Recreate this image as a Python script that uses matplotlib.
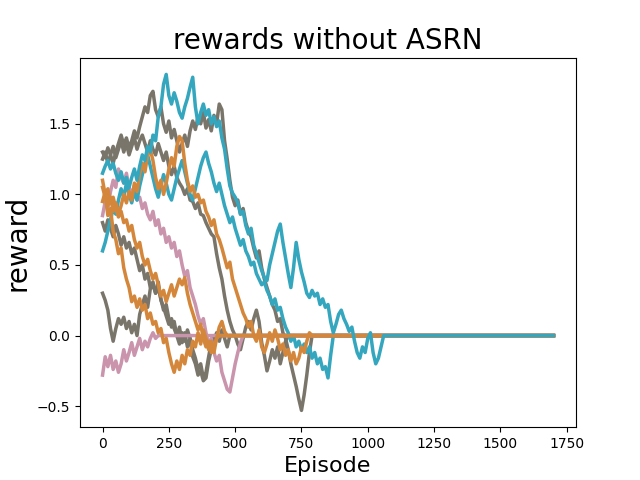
import numpy as np
import matplotlib
matplotlib.use("Agg")
import matplotlib.pyplot as plt

# rewards sampled every 10 episodes until the agent stops, then flat 0 to 1700
STEP = 10
LAST_EPISODE = 1700

grey_1 = [1.30, 1.26, 1.33, 1.28, 1.22, 1.30, 1.36, 1.42, 1.35, 1.40, 1.33, 1.38, 1.45, 1.40, 1.48, 1.55,
          1.62, 1.58, 1.70, 1.73, 1.60, 1.55, 1.62, 1.50, 1.44, 1.52, 1.40, 1.46, 1.38, 1.30, 1.36, 1.42,
          1.34, 1.45, 1.52, 1.46, 1.55, 1.50, 1.58, 1.47, 1.53, 1.45, 1.56, 1.50, 1.64, 1.60, 1.38, 1.25,
          1.10, 0.98, 0.92, 0.96, 0.86, 0.90, 0.80, 0.74, 0.70, 0.62, 0.55, 0.60, 0.48, 0.40, 0.34, 0.28,
          0.22, 0.18, 0.10, 0.12, 0.02, -0.02, -0.10, -0.20, -0.28, -0.36, -0.45, -0.53, -0.42, -0.28,
          -0.12, 0.0]
grey_2 = [1.25, 1.30, 1.22, 1.28, 1.34, 1.26, 1.32, 1.38, 1.30, 1.36, 1.28, 1.34, 1.40, 1.32, 1.38, 1.42,
          1.36, 1.30, 1.38, 1.32, 1.28, 1.36, 1.30, 1.24, 1.30, 1.20, 1.14, 1.20, 1.12, 1.08, 1.05, 1.00,
          1.04, 0.96, 0.95, 0.90, 0.94, 0.86, 0.85, 0.80, 0.76, 0.72, 0.70, 0.58, 0.48, 0.40, 0.28, 0.18,
          0.10, 0.04, 0.0, -0.06, -0.10, -0.02, 0.06, 0.10, 0.04, 0.12, 0.18, 0.10, -0.05, -0.14, -0.25,
          -0.18, -0.10, -0.16, -0.08, -0.20, -0.12, -0.04, 0.0]
grey_3 = [0.30, 0.25, 0.18, 0.05, -0.04, 0.05, 0.12, 0.08, 0.13, 0.05, 0.10, 0.02, 0.08, 0.0, 0.15, 0.22,
          0.28, 0.20, 0.33, 0.36, 0.30, 0.38, 0.25, 0.20, 0.14, 0.08, 0.12, 0.05, 0.0, 0.06, -0.05, 0.02,
          -0.08, -0.02, -0.15, -0.20, -0.28, -0.25, -0.32, -0.30, -0.18, -0.10, -0.05, 0.02, -0.04, 0.04,
          -0.02, -0.08, 0.0]
grey_4 = [0.80, 0.74, 0.82, 0.76, 0.70, 0.78, 0.72, 0.64, 0.70, 0.62, 0.66, 0.58, 0.62, 0.54, 0.46, 0.50,
          0.40, 0.44, 0.34, 0.38, 0.30, 0.34, 0.26, 0.18, 0.22, 0.12, 0.06, 0.10, 0.0, -0.06, 0.02, -0.04,
          0.04, -0.02, -0.10, -0.16, -0.24, -0.20, -0.30, -0.26, -0.15, -0.05, 0.0]
pink_1 = [-0.28, -0.15, -0.22, -0.14, -0.24, -0.18, -0.26, -0.20, -0.10, -0.18, -0.12, -0.05, -0.14, -0.08,
          -0.02, -0.10, -0.04, -0.08, -0.02, 0.02, -0.02, 0.0]
pink_2 = [0.85, 0.95, 0.90, 1.02, 1.10, 1.05, 1.18, 1.12, 1.08, 1.15, 1.05, 1.00, 1.06, 0.96, 0.98, 0.90,
          0.94, 0.86, 0.82, 0.88, 0.78, 0.82, 0.72, 0.76, 0.66, 0.70, 0.62, 0.66, 0.56, 0.60, 0.50, 0.42,
          0.46, 0.34, 0.28, 0.22, 0.14, 0.08, 0.12, 0.02, -0.06, -0.02, -0.12, -0.18, -0.14, -0.26, -0.32,
          -0.38, -0.40, -0.30, -0.20, -0.12, -0.05, 0.0]
orange_1 = [1.10, 1.00, 0.85, 0.90, 0.74, 0.68, 0.58, 0.62, 0.48, 0.40, 0.34, 0.24, 0.28, 0.20, 0.26, 0.18,
            0.22, 0.12, 0.16, 0.08, 0.10, 0.02, 0.05, -0.05, -0.02, -0.12, -0.20, -0.26, -0.18, -0.24,
            -0.14, -0.20, -0.10, -0.14, -0.04, -0.08, 0.02, -0.06, 0.04, -0.02, -0.10, -0.04, -0.12, -0.02,
            0.06, 0.10, 0.03, 0.0]
orange_2 = [0.95, 1.02, 0.92, 0.98, 0.88, 0.94, 0.86, 0.92, 1.00, 0.94, 1.02, 0.96, 1.08, 1.02, 1.15, 1.22,
            1.16, 1.28, 1.32, 1.24, 1.12, 1.04, 1.10, 1.00, 1.08, 1.18, 1.26, 1.20, 1.34, 1.41, 1.38, 1.22,
            1.10, 1.02, 1.06, 0.98, 1.00, 0.94, 0.96, 0.88, 0.84, 0.78, 0.82, 0.72, 0.68, 0.62, 0.55, 0.48,
            0.52, 0.40, 0.34, 0.28, 0.22, 0.16, 0.12, 0.06, 0.10, 0.0, -0.04, 0.04, -0.08, -0.12, -0.06,
            0.02, -0.04, 0.04, -0.02, -0.10, -0.06, -0.14, -0.10, -0.18, -0.12, -0.20, -0.16, -0.08, -0.12,
            -0.04, 0.02, 0.0]
orange_3 = [1.05, 0.98, 1.04, 0.94, 0.98, 0.90, 0.84, 0.88, 0.80, 0.82, 0.74, 0.78, 0.68, 0.62, 0.66, 0.56,
            0.50, 0.54, 0.46, 0.40, 0.44, 0.36, 0.28, 0.32, 0.24, 0.30, 0.36, 0.28, 0.34, 0.40, 0.36, 0.41,
            0.30, 0.22, 0.16, 0.10, 0.04, 0.08, -0.02, -0.08, -0.04, -0.12, -0.08, -0.02, 0.0]
teal_2 = [0.60, 0.66, 0.74, 0.82, 0.90, 0.86, 0.96, 1.04, 0.98, 1.08, 1.00, 0.94, 1.02, 0.96, 1.06, 1.14,
          1.22, 1.28, 1.20, 1.12, 1.04, 0.98, 1.06, 1.14, 1.08, 1.00, 0.96, 1.04, 1.12, 1.18, 1.24, 1.16,
          1.08, 1.00, 0.96, 1.04, 1.12, 1.20, 1.26, 1.30, 1.22, 1.16, 1.08, 1.02, 1.08, 1.00, 0.92, 0.86,
          0.80, 0.84, 0.76, 0.70, 0.64, 0.68, 0.60, 0.56, 0.50, 0.52, 0.44, 0.40, 0.36, 0.38, 0.32, 0.28,
          0.22, 0.26, 0.18, 0.20, 0.12, 0.06, 0.02, -0.04, 0.00, -0.08, -0.04, -0.10, -0.06, -0.12, -0.08,
          -0.16, -0.12, -0.20, -0.16, -0.24, -0.22, -0.30, -0.14, 0.0]
teal_1 = [1.15, 1.20, 1.24, 1.18, 1.22, 1.15, 1.10, 1.16, 1.08, 1.12, 1.05, 1.12, 1.18, 1.10, 1.20, 1.28,
          1.24, 1.34, 1.30, 1.42, 1.38, 1.55, 1.62, 1.78, 1.85, 1.70, 1.64, 1.72, 1.66, 1.58, 1.54, 1.62,
          1.68, 1.76, 1.83, 1.62, 1.50, 1.58, 1.64, 1.56, 1.60, 1.50, 1.55, 1.48, 1.52, 1.40, 1.32, 1.18,
          1.06, 1.01, 0.98, 0.94, 0.86, 0.88, 0.78, 0.72, 0.76, 0.64, 0.58, 0.52, 0.46, 0.41, 0.39, 0.50,
          0.58, 0.66, 0.74, 0.79, 0.66, 0.55, 0.44, 0.34, 0.48, 0.66, 0.54, 0.45, 0.38, 0.30, 0.27, 0.32,
          0.28, 0.30, 0.22, 0.26, 0.20, 0.22, 0.10, 0.02, 0.08, 0.15, 0.18, 0.12, 0.08, 0.03, 0.06, -0.04,
          -0.12, -0.16, -0.08, -0.12, -0.02, 0.02, -0.12, -0.20, -0.16, -0.08, 0.0]

GREY = "#7a756a"
PINK = "#c994ac"
ORANGE = "#d4873a"
TEAL = "#34a7bf"

# drawing order matters: the last one on top of the flat 0 tail
runs = [
    (grey_1, GREY), (grey_2, GREY), (grey_3, GREY), (grey_4, GREY),
    (pink_1, PINK), (pink_2, PINK),
    (teal_2, TEAL),
    (orange_1, ORANGE), (orange_2, ORANGE), (orange_3, ORANGE),
    (teal_1, TEAL),
]

fig = plt.figure(figsize=(6.4, 4.8), dpi=100)
ax = plt.axes()
for values, color in runs:
    episodes = list(range(0, len(values) * STEP, STEP)) + [LAST_EPISODE]
    ax.plot(episodes, values + [0.0], color=color, linewidth=2.5)

ax.set_xticks([0, 250, 500, 750, 1000, 1250, 1500, 1750])
ax.set_yticks([-0.5, 0.0, 0.5, 1.0, 1.5])
ax.set_title("rewards without ASRN", fontsize=20)
ax.set_xlabel("Episode", fontsize=16)
ax.set_ylabel("reward", fontsize=20)

plt.savefig("out.png", dpi=100)
